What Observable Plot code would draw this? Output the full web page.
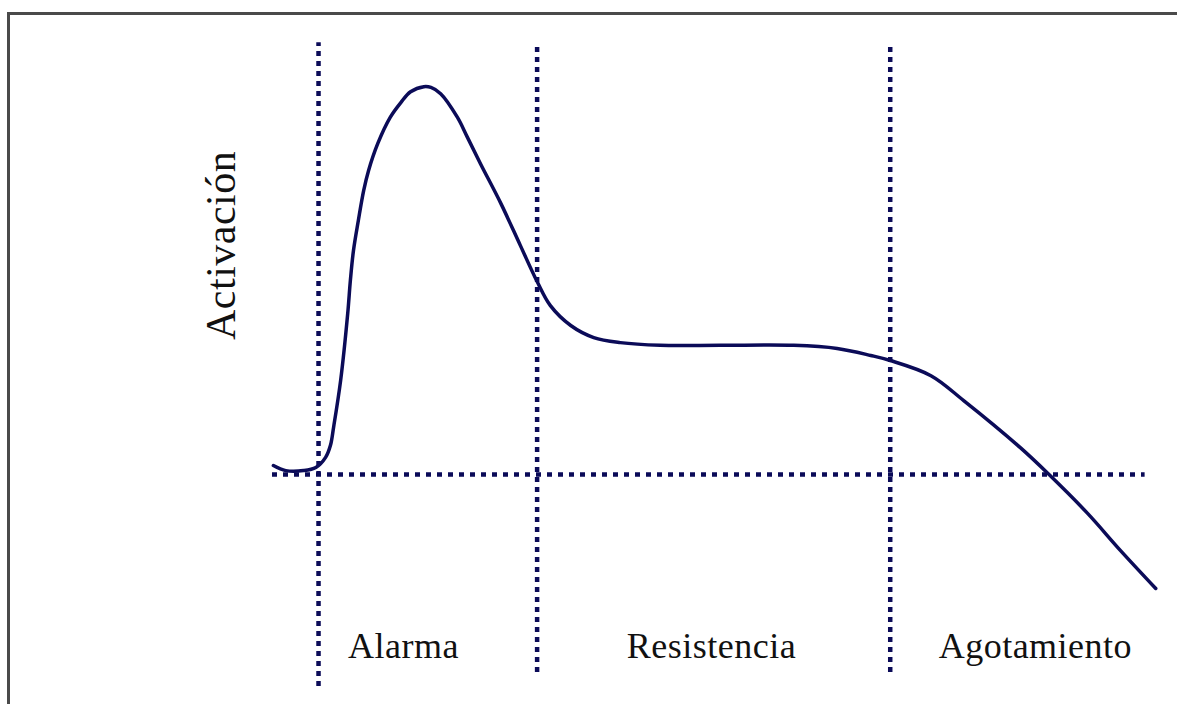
<!DOCTYPE html>
<html>
<head>
<meta charset="utf-8">
<script src="https://cdn.jsdelivr.net/npm/d3@7"></script>
<script src="https://cdn.jsdelivr.net/npm/@observablehq/plot@0.6"></script>
<style>
  html, body { margin: 0; padding: 0; background: #fff; overflow: hidden; }
  #chart svg { display: block; }
</style>
</head>
<body>
<div id="chart"></div>
<script>
// Curve: time (arbitrary units) vs activation (baseline = 0)
const time = [0.1, 1.5, 3.5, 4.9, 6.0, 6.55, 6.9, 7.7, 8.5, 8.8, 9.15, 9.7, 10.3, 10.85, 11.9, 13.3, 14.5, 15.6, 17.1, 17.9, 19.0, 20.9, 22.0, 23.5, 25.8, 28.0, 29.9, 31.4, 33.7, 36.3, 39.3, 43.8, 50.6, 58.9, 63.8, 67.6, 69.8, 74.4, 78.1, 84.5, 87.6, 92.1, 95.8, 99.8];
const activation = [2.3, 1.0, 1.0, 1.8, 4.4, 7.5, 12.1, 24.2, 41.4, 49.9, 57.6, 65.3, 73.0, 78.1, 85.1, 91.8, 95.6, 98.4, 99.7, 99.5, 97.9, 91.8, 86.8, 79.9, 69.7, 58.9, 49.6, 43.4, 38.3, 35.2, 33.9, 33.2, 33.2, 33.2, 32.4, 30.6, 29.3, 25.4, 19.0, 6.9, 0.3, -10.0, -19.5, -29.3];

// Phases
const phaseNames = ["Alarma", "Resistencia", "Agotamiento"];
const phaseStart = [5.2, 29.9, 69.8];
const phaseTop = [111, 111, 111];
const phaseBottom = [-54.5, -50.9, -50.9];
const phaseLabelX = [14.8, 49.6, 86.2];
const phaseLabelY = -47.3;

// Baseline extent
const baselineFrom = 0;
const baselineTo = 98.6;

const yLabel = "Activación";

const navy = "#0b0b58";
const curve = time.map((t, i) => ({t, v: activation[i]}));
const phases = phaseNames.map((name, i) => ({
  name, start: phaseStart[i], top: phaseTop[i], bottom: phaseBottom[i], lx: phaseLabelX[i]
}));

const chart = Plot.plot({
  width: 1177,
  height: 704,
  margin: 0,
  x: {domain: [0, 100], range: [272, 1157], axis: null},
  y: {domain: [0, 100], range: [474, 85], axis: null},
  style: {background: "#fff"},
  marks: [
    Plot.frame({stroke: "#4a4a4a", strokeWidth: 3, insetTop: 13, insetLeft: 8, insetRight: -20, insetBottom: -20}),
    Plot.ruleY([0], {x1: baselineFrom, x2: baselineTo, stroke: navy, strokeWidth: 4.5, strokeDasharray: "5,6"}),
    Plot.ruleX(phases, {x: "start", y1: "bottom", y2: "top", stroke: navy, strokeWidth: 4.5, strokeDasharray: "5,5"}),
    Plot.line(curve, {x: "t", y: "v", stroke: navy, strokeWidth: 3.5, curve: "catmull-rom"}),
    Plot.text(phases, {x: "lx", y: () => phaseLabelY, text: "name", fontSize: 36, fontFamily: "Liberation Serif", fill: "#111", lineAnchor: "bottom", textAnchor: "middle"}),
    Plot.text([yLabel], {x: () => -4.2, y: () => 58.9, text: d => d, rotate: -90, fontSize: 42, fontFamily: "Liberation Serif", fill: "#111", lineAnchor: "bottom", textAnchor: "middle"})
  ]
});
chart.querySelectorAll("text").forEach(t => t.style.letterSpacing = "0.5px");
document.getElementById("chart").appendChild(chart);
</script>
</body>
</html>
